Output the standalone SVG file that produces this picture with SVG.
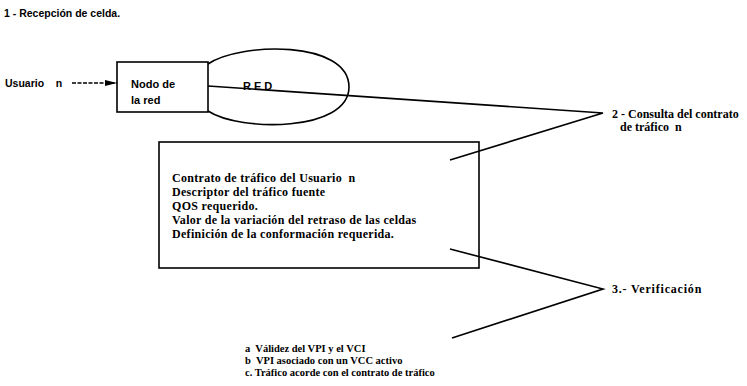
<svg xmlns="http://www.w3.org/2000/svg" width="747" height="386" viewBox="0 0 747 386">
<style>
text{white-space:pre}
.t{font-family:"Liberation Serif","DejaVu Serif",serif;font-size:12px;font-weight:bold;fill:#000;letter-spacing:0.3px}
.i{font-family:"Liberation Serif","DejaVu Serif",serif;font-size:10.5px;font-weight:bold;fill:#000}
.s{font-family:"Liberation Sans","DejaVu Sans",sans-serif;font-size:10.5px;font-weight:bold;fill:#000}
.ln{stroke:#000;stroke-width:1.6;fill:none}
</style>
<defs>
<marker id="ah" markerWidth="12" markerHeight="7" refX="12" refY="3.5" orient="auto" markerUnits="userSpaceOnUse">
<path d="M0,0.5 L12,3.5 L0,6.5 Z" fill="#000"/>
</marker>
</defs>
<rect width="747" height="386" fill="#fff"/>
<text class="s" x="4" y="17">1 - Recepción de celda.</text>
<g id="usuario">
<text class="s" x="5" y="87">Usuario    n</text>
</g>
<g id="red">
<path d="M208,64 C240,42 349,40 349,87 C349,132 240,132 208,111" class="ln"/>
<text class="s" x="243" y="90" style="font-size:11px;letter-spacing:3px">RED</text>
</g>
<g id="nodo">
<rect x="117" y="62" width="91" height="50" class="ln" fill="#fff"/>
<text class="s" x="131" y="88" style="font-size:11px">Nodo de</text>
<text class="s" x="131" y="104" style="font-size:11px">la red</text>
</g>
<g id="contrato">
<rect x="159" y="142" width="320" height="126" class="ln" fill="#fff"/>
<text class="t" x="172" y="182">Contrato de tráfico del Usuario  n</text>
<text class="t" x="172" y="196">Descriptor del tráfico fuente</text>
<text class="t" x="172" y="210">QOS requerido.</text>
<text class="t" x="172" y="224">Valor de la variación del retraso de las celdas</text>
<text class="t" x="172" y="238">Definición de la conformación requerida.</text>
</g>
<g id="consulta">
<text class="t" x="612" y="118" style="letter-spacing:0">2 - Consulta del contrato</text>
<text class="t" x="620" y="131" style="letter-spacing:0">de tráfico  n</text>
</g>
<g id="verificacion">
<text class="t" x="612" y="293" style="letter-spacing:0.8px">3.- Verificación</text>
</g>
<g id="verif-items">
<text class="i" x="245" y="352">a  Válidez del VPI y el VCI</text>
<text class="i" x="245" y="364">b  VPI asociado con un VCC activo</text>
<text class="i" x="245" y="376">c. Tráfico acorde con el contrato de tráfico</text>
</g>
<g id="connectors">
<line x1="72" y1="83" x2="117" y2="83" class="ln" stroke-dasharray="4,1.5" marker-end="url(#ah)"/>
<polyline points="208,86 603,113 450,160" class="ln"/>
<polyline points="450,249 603,289 452,338" class="ln"/>
</g>
</svg>
